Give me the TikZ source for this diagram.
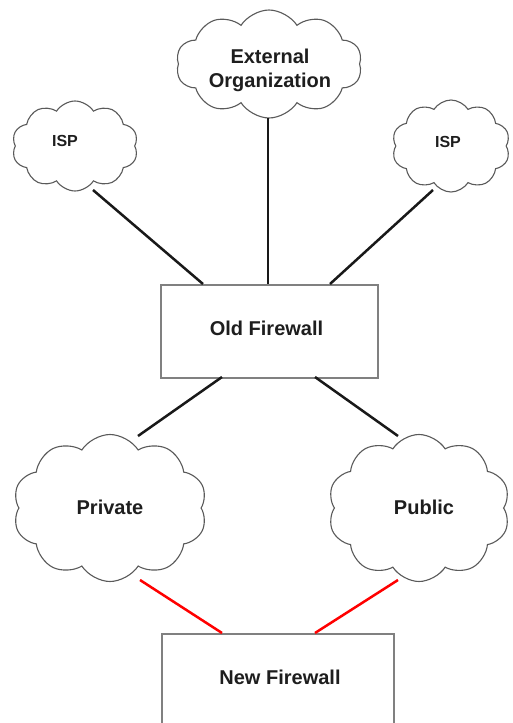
\documentclass[tikz,border=0pt]{standalone}
\usepackage{fontspec}
\setmainfont{Liberation Sans}
\usetikzlibrary{shapes.symbols}
\definecolor{cloudline}{RGB}{90,90,90}
\definecolor{boxline}{RGB}{128,128,128}
\definecolor{txt}{RGB}{30,30,30}
\tikzset{
  netcloud/.style={cloud, draw=cloudline, line width=1.1pt, fill=white, cloud puffs=10, cloud puff arc=115, cloud ignores aspect, inner sep=0pt},
  fwbox/.style={draw=boxline, line width=2pt, fill=white},
  lbl/.style={font=\bfseries\fontsize{20}{24}\selectfont, text=txt, align=center, inner sep=0pt},
  smalllbl/.style={font=\bfseries\fontsize{16}{19}\selectfont, text=txt, inner sep=0pt},
  link/.style={line width=2.5pt, black!90},
  newlink/.style={line width=2.5pt, red},
}
\begin{document}
\begin{tikzpicture}[x=1pt,y=-1pt]
\useasboundingbox (0,0) rectangle (512,723);
\clip (0,0) rectangle (512,723);
\fill[white] (0,0) rectangle (512,723);
% clouds
\node[netcloud, minimum width=186pt, minimum height=108pt] (ext) at (269,64) {};
\node[netcloud, minimum width=126pt, minimum height=90pt] (ispL) at (75,146) {};
\node[netcloud, minimum width=118pt, minimum height=92pt] (ispR) at (451,146) {};
\node[netcloud, minimum width=194pt, minimum height=147pt] (priv) at (110,508) {};
\node[netcloud, minimum width=182pt, minimum height=147pt] (pub) at (419,508) {};
% boxes
\node[fwbox, minimum width=217pt, minimum height=93pt, anchor=north west] (old) at (160,284) {};
\node[fwbox, minimum width=232pt, minimum height=110pt, anchor=north west] (new) at (161,633) {};
% labels
\node[lbl] (tExt) at (270,70) {External\\Organization};
\node[smalllbl] (tIspL) at (65,141) {ISP};
\node[smalllbl] (tIspR) at (448,142) {ISP};
\node[lbl] (tOld) at (266.5,328) {Old Firewall};
\node[lbl] (tPriv) at (110,507) {Private};
\node[lbl] (tPub) at (424,507) {Public};
\node[lbl] (tNew) at (280,677) {New Firewall};
% connector end points
\coordinate (eIspL) at (93,190);
\coordinate (eIspR) at (433,190);
\coordinate (eExt) at (268,118);
\coordinate (oL) at (203,284);
\coordinate (oM) at (268,284);
\coordinate (oR) at (330,284);
\coordinate (oBL) at (222,377);
\coordinate (oBR) at (315,377);
\coordinate (pTop) at (138,436);
\coordinate (qTop) at (398,436);
\coordinate (pBot) at (140,580);
\coordinate (qBot) at (398,580);
\coordinate (nL) at (222,633);
\coordinate (nR) at (315,633);
% connectors
\draw[link] (eIspL) -- (oL);
\draw[link] (eExt) -- (oM);
\draw[link] (eIspR) -- (oR);
\draw[link] (oBL) -- (pTop);
\draw[link] (oBR) -- (qTop);
\draw[newlink] (pBot) -- (nL);
\draw[newlink] (qBot) -- (nR);
\end{tikzpicture}
\end{document}
